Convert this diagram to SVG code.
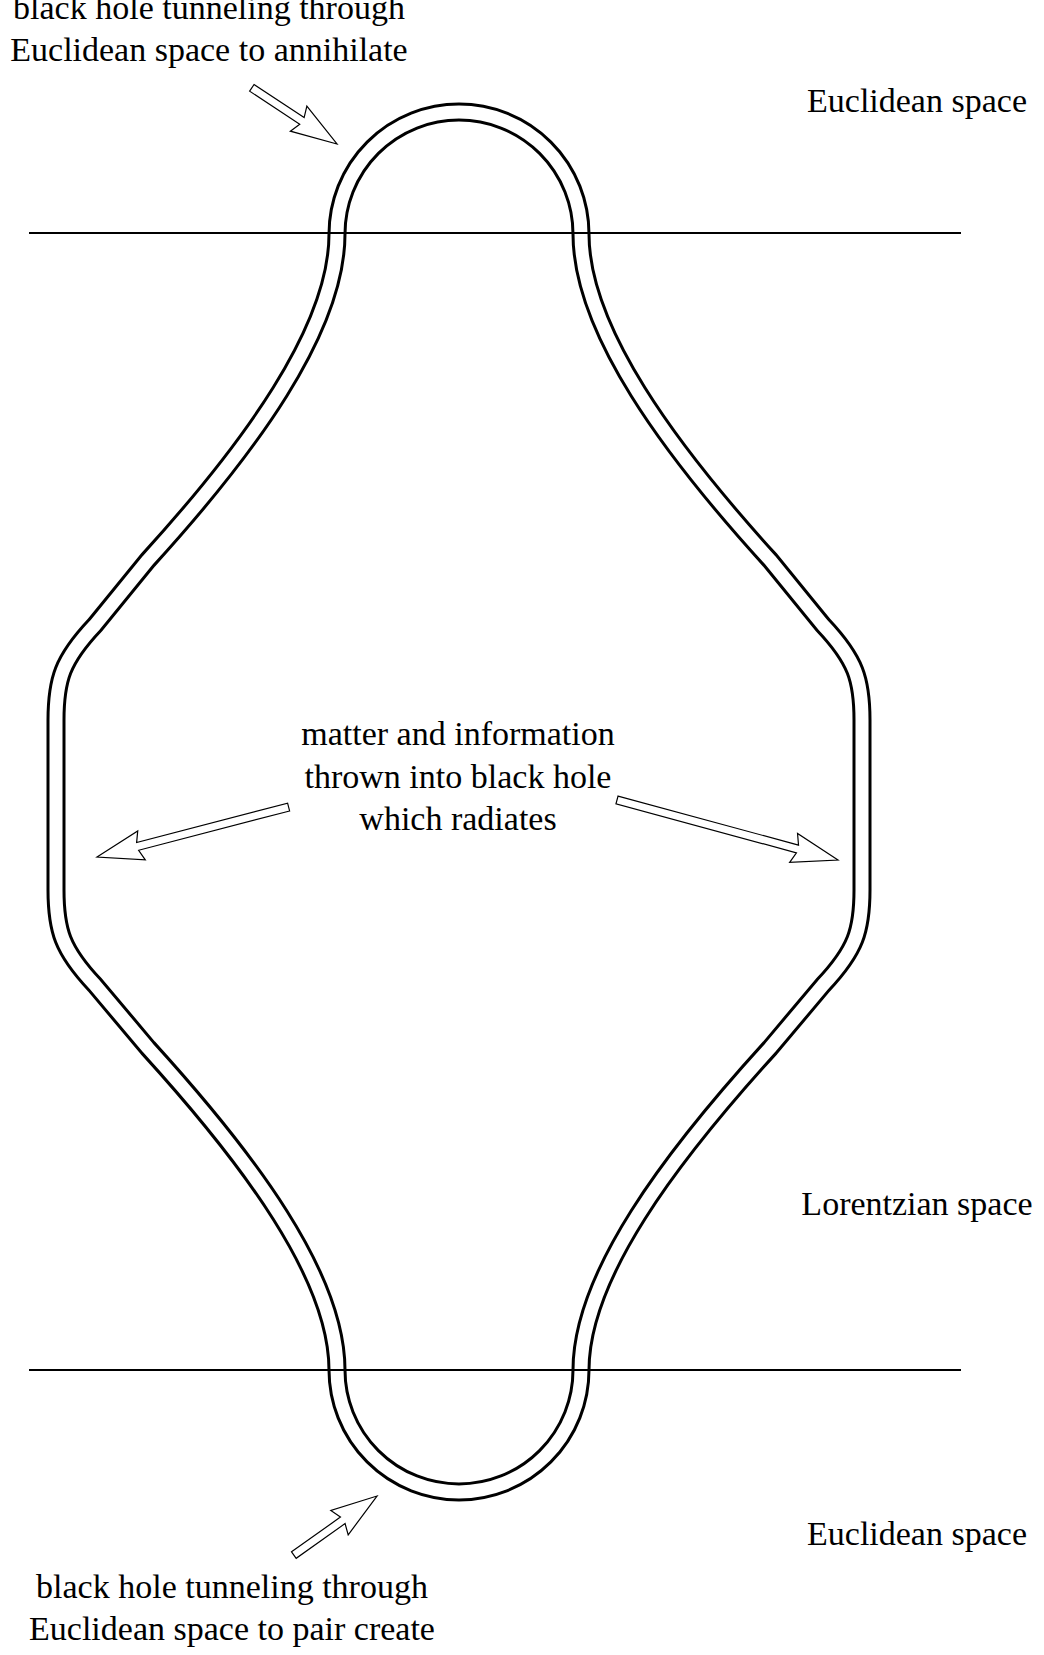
<svg xmlns="http://www.w3.org/2000/svg" width="1044" height="1655" viewBox="0 0 1044 1655">
<style>
text{font-family:"Liberation Serif","DejaVu Serif",serif;font-size:34px;fill:#000;text-anchor:middle}
.arrow{fill:#fff;stroke:#000;stroke-width:1.2}
.hl{stroke:#000;stroke-width:2}
.lp{fill:none}
</style>
<rect width="1044" height="1655" fill="#fff"/>
<g id="loop">
<path class="lp" stroke="#000" stroke-width="19" d="M337,1370 C337,1276 248,1158 148,1048 L95,985 C62,950 56,930 56,890 L56,720 C56,680 62,660 95,625 L148,560 C248,450 337,330 337,234 A122,122 0 0 1 581,234 C581,330 670,450 770,560 L823,625 C856,660 862,680 862,720 L862,890 C862,930 856,950 823,985 L770,1048 C670,1158 581,1276 581,1370 A122,122 0 0 1 337,1370 Z"/>
<path class="lp" stroke="#fff" stroke-width="13" d="M337,1370 C337,1276 248,1158 148,1048 L95,985 C62,950 56,930 56,890 L56,720 C56,680 62,660 95,625 L148,560 C248,450 337,330 337,234 A122,122 0 0 1 581,234 C581,330 670,450 770,560 L823,625 C856,660 862,680 862,720 L862,890 C862,930 856,950 823,985 L770,1048 C670,1158 581,1276 581,1370 A122,122 0 0 1 337,1370 Z"/>
</g>
<g id="lines">
<line class="hl" x1="29" y1="233" x2="961" y2="233"/>
<line class="hl" x1="29" y1="1370" x2="961" y2="1370"/>
</g>
<g id="connectors">
<polygon class="arrow" transform="translate(337,144) rotate(33.4)" points="-102,-4 -42,-4 -46,-15 0,0 -46,15 -42,4 -102,4"/>
<polygon class="arrow" transform="translate(377,1496) rotate(-35.4)" points="-102,-4 -42,-4 -46,-15 0,0 -46,15 -42,4 -102,4"/>
<polygon class="arrow" transform="translate(97,857) rotate(165.4)" points="-198,-4 -42,-4 -46,-15 0,0 -46,15 -42,4 -198,4"/>
<polygon class="arrow" transform="translate(838,860) rotate(15.2)" points="-229,-4 -42,-4 -46,-15 0,0 -46,15 -42,4 -229,4"/>
</g>
<g id="labels">
<text x="209" y="19">black hole tunneling through</text>
<text x="209" y="61">Euclidean space to annihilate</text>
<text x="917" y="112">Euclidean space</text>
<text x="458" y="745">matter and information</text>
<text x="458" y="788">thrown into black hole</text>
<text x="458" y="830">which radiates</text>
<text x="917" y="1215">Lorentzian space</text>
<text x="917" y="1545">Euclidean space</text>
<text x="232" y="1598">black hole tunneling through</text>
<text x="232" y="1640">Euclidean space to pair create</text>
</g>
</svg>
